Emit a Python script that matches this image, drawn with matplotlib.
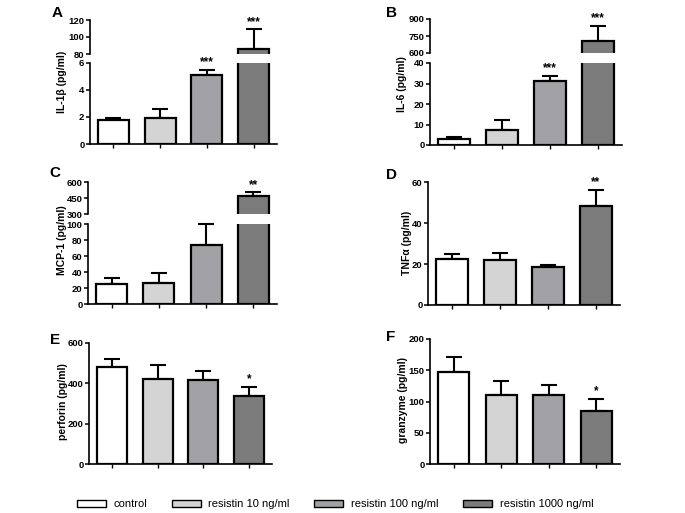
import matplotlib
matplotlib.use('Agg')
import matplotlib.pyplot as plt
from matplotlib.patches import Patch
import numpy as np

plt.rcParams['font.family'] = ['Liberation Sans Narrow', 'Liberation Sans', 'DejaVu Sans']

groups = ['control', 'resistin 10 ng/ml', 'resistin 100 ng/ml', 'resistin 1000 ng/ml']
colors = ['#ffffff', '#d4d4d4', '#a2a2a6', '#7b7b7b']

il1b = [1.75, 1.9, 5.1, 86]
il1b_err = [0.15, 0.7, 0.4, 23]
il1b_sig = ['', '', '***', '***']

il6 = [3.0, 7.4, 31.0, 705]
il6_err = [0.8, 4.8, 2.7, 133]
il6_sig = ['', '', '***', '***']

mcp1 = [24.5, 26, 74, 470]
mcp1_err = [7.5, 12.5, 26, 33]
mcp1_sig = ['', '', '', '**']

tnfa = [22.5, 22.1, 18.5, 48.4]
tnfa_err = [2.3, 3.2, 0.9, 7.7]
tnfa_sig = ['', '', '', '**']

perforin = [480, 423, 417, 337]
perforin_err = [40, 69, 44, 45]
perforin_sig = ['', '', '', '*']

granzyme = [148, 110, 110, 85]
granzyme_err = [24, 23, 16, 19]
granzyme_sig = ['', '', '', '*']

W, H = 685, 513
fig = plt.figure(figsize=(W / 100, H / 100), dpi=100)
x = np.arange(4)
bw = 0.66


def rect(l, r, t, b):
    return [l / W, (H - b) / H, (r - l) / W, (b - t) / H]


def style(ax, bottom=True):
    for s in ['top', 'right']:
        ax.spines[s].set_visible(False)
    ax.spines['left'].set_linewidth(1.2)
    ax.spines['bottom'].set_linewidth(1.2)
    ax.set_xlim(-0.5, 3.5)
    ax.tick_params(axis='y', length=3, width=1.1, pad=1, labelsize=6.8)
    for lab in ax.get_yticklabels():
        lab.set_fontweight('bold')
    if bottom:
        ax.set_xticks(x)
        ax.set_xticklabels([])
        ax.tick_params(axis='x', length=3, width=1)
    else:
        ax.spines['bottom'].set_visible(False)
        ax.set_xticks([])


def draw_bars(ax, vals, errs, sig, idx):
    ax.bar(x, vals, width=bw, color=colors, edgecolor='black', linewidth=1.6, zorder=2)
    for i in idx:
        ax.errorbar(x[i], vals[i], yerr=[[0], [errs[i]]], fmt='none', ecolor='black',
                    elinewidth=1.5, capsize=6, capthick=1.5, zorder=1, clip_on=False)
        if sig[i]:
            ax.annotate(sig[i], (x[i], vals[i] + errs[i]), xytext=(0, 1), textcoords='offset points',
                        ha='center', va='bottom', fontsize=8.5, fontweight='bold')


def simple_panel(pos, vals, errs, sig, ylim, yticks):
    ax = fig.add_axes(rect(*pos))
    draw_bars(ax, vals, errs, sig, range(4))
    ax.set_ylim(*ylim)
    ax.set_yticks(yticks)
    style(ax)
    return ax


def broken_panel(pos_top, pos_bot, vals, errs, sig, ylim_top, yt_top, ylim_bot, yt_bot):
    axt = fig.add_axes(rect(*pos_top))
    axb = fig.add_axes(rect(*pos_bot))
    low = [i for i in range(4) if vals[i] <= ylim_bot[1]]
    high = [i for i in range(4) if vals[i] > ylim_bot[1]]
    draw_bars(axt, vals, errs, sig, high)
    draw_bars(axb, vals, errs, sig, low)
    axt.set_ylim(*ylim_top)
    axt.set_yticks(yt_top)
    axb.set_ylim(*ylim_bot)
    axb.set_yticks(yt_bot)
    style(axt, bottom=False)
    style(axb)
    return axt, axb


# A
broken_panel((90, 277, 20, 54), (90, 277, 63, 144), il1b, il1b_err, il1b_sig,
             (80, 120), [80, 100, 120], (0, 6), [0, 2, 4, 6])
# B
broken_panel((430, 622, 19, 53), (430, 622, 63, 145), il6, il6_err, il6_sig,
             (600, 900), [600, 750, 900], (0, 40), [0, 10, 20, 30, 40])
# C
broken_panel((88, 277, 182, 214), (88, 277, 224, 304), mcp1, mcp1_err, mcp1_sig,
             (300, 600), [300, 450, 600], (0, 100), [0, 20, 40, 60, 80, 100])
# D
simple_panel((428, 620, 182, 305), tnfa, tnfa_err, tnfa_sig, (0, 60), [0, 20, 40, 60])
# E
simple_panel((89, 272, 343, 464), perforin, perforin_err, perforin_sig, (0, 600), [0, 200, 400, 600])
# F
simple_panel((430, 620, 339, 464), granzyme, granzyme_err, granzyme_sig, (0, 200), [0, 50, 100, 150, 200])

# panel letters
letters = [('A', 57, 13), ('B', 392, 13), ('C', 55, 173), ('D', 392, 175), ('E', 55, 340), ('F', 391, 337)]
for t, px, py in letters:
    fig.text(px / W, 1 - py / H, t, ha='center', va='center', fontsize=11, fontweight='bold',
             family=['Liberation Sans', 'DejaVu Sans'])

# y labels
ylabels = [('IL-1β (pg/ml)', 62, 82), ('IL-6 (pg/ml)', 402, 84), ('MCP-1 (pg/ml)', 62, 240),
           ('TNFα (pg/ml)', 407, 243), ('perforin (pg/ml)', 63, 402), ('granzyme (pg/ml)', 403, 400)]
for t, px, py in ylabels:
    fig.text(px / W, 1 - py / H, t, ha='center', va='center', rotation=90, fontsize=7.5, fontweight='bold')

# legend
handles = [Patch(facecolor=c, edgecolor='black', linewidth=1.0) for c in colors]
fig.legend(handles, groups, loc='center', bbox_to_anchor=(335 / W, 1 - 504 / H), ncol=4, frameon=False,
           prop={'family': ['Liberation Sans', 'DejaVu Sans'], 'size': 8},
           handlelength=2.6, handleheight=0.6, handletextpad=0.7, columnspacing=2.2)

fig.savefig('out.png', dpi=100)
